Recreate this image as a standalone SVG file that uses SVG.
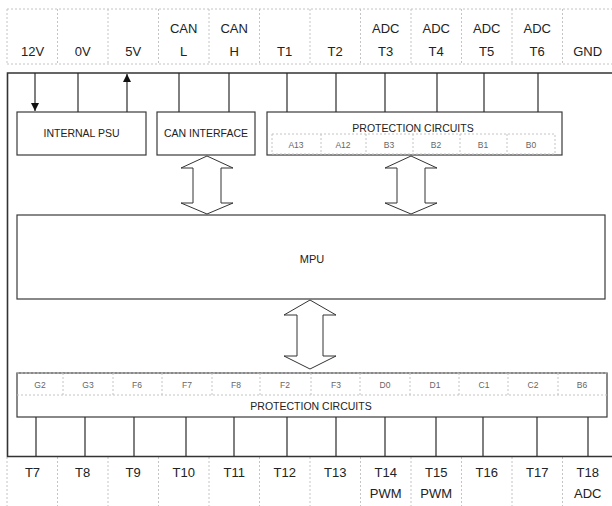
<svg xmlns="http://www.w3.org/2000/svg" width="612" height="506" viewBox="0 0 612 506">
<style>
.lbl{font-family:"Liberation Sans",Arial,sans-serif;font-size:13px;fill:#222;text-anchor:middle}
.box{fill:#fff;stroke:#3a3a3a;stroke-width:1.2}
.btxt{font-family:"Liberation Sans",Arial,sans-serif;font-size:10.5px;fill:#222;text-anchor:middle}
.cell{font-family:"Liberation Sans",Arial,sans-serif;font-size:8.5px;fill:#666;text-anchor:middle}
.dot{stroke:#c4c4c4;stroke-width:1;stroke-dasharray:2 2;fill:none}
.wire{stroke:#2a2a2a;stroke-width:1.2;fill:none}
.dbl{fill:#fff;stroke:#333;stroke-width:1;stroke-linejoin:miter}
.dblsh{fill:none;stroke:#aaa;stroke-width:1.5}
</style>
<defs>
<marker id="ah" viewBox="0 0 8 8" refX="8" refY="4" markerWidth="8" markerHeight="8" markerUnits="userSpaceOnUse" orient="auto">
<path d="M0,0 L8,4 L0,8 Z" fill="#111"/>
</marker>
</defs>
<rect width="612" height="506" fill="#fff"/>

<g id="header">
<path class="dot" d="M7,9 H612 M7,64 H612 M7,9 V64 M57.5,9 V64 M108,9 V64 M158.5,9 V64 M209,9 V64 M259.5,9 V64 M310,9 V64 M360.5,9 V64 M411,9 V64 M461.5,9 V64 M512,9 V64 M562.5,9 V64"/>
<text class="lbl" x="32.5" y="56">12V</text>
<text class="lbl" x="82.7" y="56">0V</text>
<text class="lbl" x="133.2" y="56">5V</text>
<text class="lbl" x="183.7" y="33">CAN</text>
<text class="lbl" x="183.7" y="56">L</text>
<text class="lbl" x="234.2" y="33">CAN</text>
<text class="lbl" x="234.2" y="56">H</text>
<text class="lbl" x="284.7" y="56">T1</text>
<text class="lbl" x="335.2" y="56">T2</text>
<text class="lbl" x="385.7" y="33">ADC</text>
<text class="lbl" x="385.7" y="56">T3</text>
<text class="lbl" x="436.2" y="33">ADC</text>
<text class="lbl" x="436.2" y="56">T4</text>
<text class="lbl" x="486.7" y="33">ADC</text>
<text class="lbl" x="486.7" y="56">T5</text>
<text class="lbl" x="537.2" y="33">ADC</text>
<text class="lbl" x="537.2" y="56">T6</text>
<text class="lbl" x="587.7" y="56">GND</text>
</g>

<g id="footer">
<path class="dot" d="M7,457 V506 M57.5,457 V506 M108,457 V506 M158.5,457 V506 M209,457 V506 M259.5,457 V506 M310,457 V506 M360.5,457 V506 M411,457 V506 M461.5,457 V506 M512,457 V506 M562.5,457 V506"/>
<text class="lbl" x="32.5" y="477">T7</text>
<text class="lbl" x="82.7" y="477">T8</text>
<text class="lbl" x="133.2" y="477">T9</text>
<text class="lbl" x="183.7" y="477">T10</text>
<text class="lbl" x="234.2" y="477">T11</text>
<text class="lbl" x="284.7" y="477">T12</text>
<text class="lbl" x="335.2" y="477">T13</text>
<text class="lbl" x="385.7" y="477">T14</text>
<text class="lbl" x="385.7" y="498">PWM</text>
<text class="lbl" x="436.2" y="477">T15</text>
<text class="lbl" x="436.2" y="498">PWM</text>
<text class="lbl" x="486.7" y="477">T16</text>
<text class="lbl" x="537.2" y="477">T17</text>
<text class="lbl" x="587.7" y="477">T18</text>
<text class="lbl" x="587.7" y="498">ADC</text>
</g>

<g id="enclosure">
<path d="M614,73 H7.5 V456.5 H614" fill="none" stroke="#333" stroke-width="1.6"/>
</g>

<g id="psu">
<rect class="box" x="17" y="112" width="129" height="43"/>
<text class="btxt" x="81.5" y="137">INTERNAL PSU</text>
</g>

<g id="can">
<rect class="box" x="157" y="112" width="98" height="43"/>
<text class="btxt" x="206" y="137">CAN INTERFACE</text>
</g>

<g id="prot-top">
<rect class="box" x="267" y="112" width="295" height="43"/>
<text class="btxt" x="413" y="132">PROTECTION CIRCUITS</text>
<path class="dot" d="M272,134 H555 V154 H272 Z M321,134 V154 M366,134 V154 M413,134 V154 M460,134 V154 M507,134 V154"/>
<text class="cell" x="296" y="148">A13</text>
<text class="cell" x="343" y="148">A12</text>
<text class="cell" x="389" y="148">B3</text>
<text class="cell" x="436" y="148">B2</text>
<text class="cell" x="483" y="148">B1</text>
<text class="cell" x="531" y="148">B0</text>
</g>

<g id="mpu">
<rect class="box" x="17" y="215" width="588" height="84" stroke-width="1.6"/>
<text class="btxt" x="312" y="263" style="font-size:11px">MPU</text>
</g>

<g id="prot-bottom">
<rect class="box" x="17" y="373" width="590" height="44"/>
<path class="dot" d="M17,373 H607 M17,395 H607 M63,373 V395 M113,373 V395 M162,373 V395 M212,373 V395 M260,373 V395 M311,373 V395 M360,373 V395 M410,373 V395 M459,373 V395 M508,373 V395 M558,373 V395"/>
<text class="cell" x="40" y="388">G2</text>
<text class="cell" x="88" y="388">G3</text>
<text class="cell" x="137" y="388">F6</text>
<text class="cell" x="187" y="388">F7</text>
<text class="cell" x="236" y="388">F8</text>
<text class="cell" x="285" y="388">F2</text>
<text class="cell" x="336" y="388">F3</text>
<text class="cell" x="385" y="388">D0</text>
<text class="cell" x="435" y="388">D1</text>
<text class="cell" x="484" y="388">C1</text>
<text class="cell" x="533" y="388">C2</text>
<text class="cell" x="582" y="388">B6</text>
<text class="btxt" x="311" y="410">PROTECTION CIRCUITS</text>
</g>

<g id="connectors">
<line class="wire" x1="35" y1="73" x2="35" y2="111" marker-end="url(#ah)"/>
<line class="wire" x1="78" y1="73" x2="78" y2="112"/>
<line class="wire" x1="127" y1="112" x2="127" y2="74" marker-end="url(#ah)"/>
<line class="wire" x1="179" y1="73" x2="179" y2="112"/>
<line class="wire" x1="229" y1="73" x2="229" y2="112"/>
<line class="wire" x1="287" y1="73" x2="287" y2="112"/>
<line class="wire" x1="336" y1="73" x2="336" y2="112"/>
<line class="wire" x1="385" y1="73" x2="385" y2="112"/>
<line class="wire" x1="437" y1="73" x2="437" y2="112"/>
<line class="wire" x1="484" y1="73" x2="484" y2="112"/>
<line class="wire" x1="538" y1="73" x2="538" y2="112"/>

<line class="wire" x1="36" y1="417" x2="36" y2="456"/>
<line class="wire" x1="85" y1="417" x2="85" y2="456"/>
<line class="wire" x1="134" y1="417" x2="134" y2="456"/>
<line class="wire" x1="186" y1="417" x2="186" y2="456"/>
<line class="wire" x1="234" y1="417" x2="234" y2="456"/>
<line class="wire" x1="287" y1="417" x2="287" y2="456"/>
<line class="wire" x1="336" y1="417" x2="336" y2="456"/>
<line class="wire" x1="385" y1="417" x2="385" y2="456"/>
<line class="wire" x1="436" y1="417" x2="436" y2="456"/>
<line class="wire" x1="483" y1="417" x2="483" y2="456"/>
<line class="wire" x1="537" y1="417" x2="537" y2="456"/>
<line class="wire" x1="588" y1="417" x2="588" y2="456"/>

<polygon class="dbl" points="207,156 233,168 221,168 221,203 233,203 207,214 181,203 193,203 193,168 181,168"/>
<polygon class="dbl" points="411,156 437,168 425,168 425,203 437,203 411,214 385,203 397,203 397,168 385,168"/>
<polygon class="dbl" points="310,300 336,315 323,315 323,356 336,356 310,369 284,356 297,356 297,315 284,315"/>
</g>
</svg>
